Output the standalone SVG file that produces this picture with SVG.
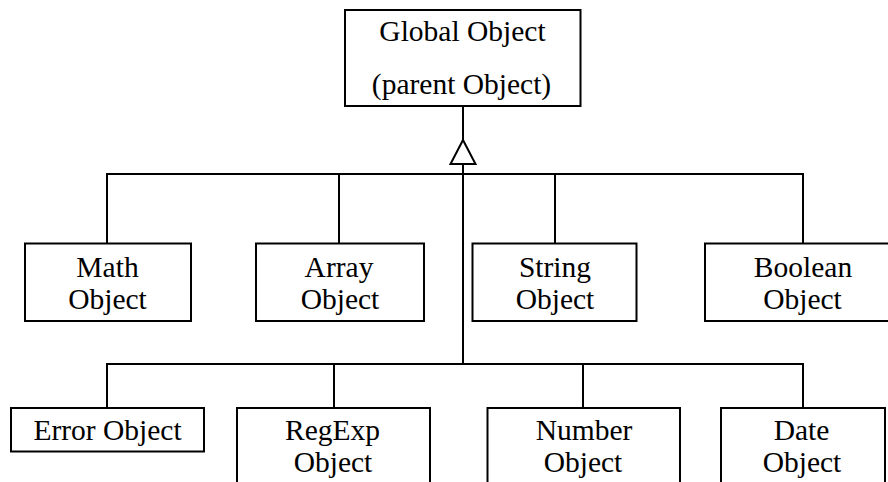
<svg xmlns="http://www.w3.org/2000/svg" width="888" height="482" viewBox="0 0 888 482">
<style>
.box{fill:#fff;stroke:#000;stroke-width:2}
.ln{fill:none;stroke:#000;stroke-width:2}
.tri{fill:#fff;stroke:#000;stroke-width:2;stroke-linejoin:miter}
text{font-family:"Liberation Serif","Times New Roman",serif;font-size:29.5px;fill:#000;text-anchor:middle}
</style>
<rect width="888" height="482" fill="#fff"/>
<g id="connectors">
<path class="ln" d="M463,106 V364"/>
<path class="ln" d="M107,243 V174 H803 V243 M339,174 V243 M555,174 V243"/>
<path class="ln" d="M107,408 V364 H803 V408 M334,364 V408 M583,364 V408"/>
<polygon class="tri" points="463,140 475.5,164 450.5,164"/>
</g>
<g id="global">
<rect class="box" x="345" y="10" width="235.5" height="96"/>
<text x="462.5" y="40.5">Global Object</text>
<text x="461.5" y="94">(parent Object)</text>
</g>
<g id="math">
<rect class="box" x="25" y="243.5" width="166" height="77.5"/>
<text x="107.5" y="276.5">Math</text>
<text x="107.5" y="308.5">Object</text>
</g>
<g id="array">
<rect class="box" x="256" y="243.5" width="168" height="77.5"/>
<text x="339" y="276.5">Array</text>
<text x="340" y="308.5">Object</text>
</g>
<g id="string">
<rect class="box" x="472.5" y="243.5" width="164" height="77.5"/>
<text x="555" y="276.5">String</text>
<text x="555" y="308.5">Object</text>
</g>
<g id="boolean">
<rect class="box" x="705" y="243.5" width="190" height="77.5"/>
<text x="803" y="276.5">Boolean</text>
<text x="802.5" y="308.5">Object</text>
</g>
<g id="error">
<rect class="box" x="11" y="408" width="193" height="43.5"/>
<text x="107.5" y="440">Error Object</text>
</g>
<g id="regexp">
<rect class="box" x="237" y="408" width="193" height="90"/>
<text x="332.5" y="440">RegExp</text>
<text x="333" y="471.5">Object</text>
</g>
<g id="number">
<rect class="box" x="487.5" y="408" width="192.5" height="90"/>
<text x="584" y="440">Number</text>
<text x="583" y="471.5">Object</text>
</g>
<g id="date">
<rect class="box" x="721" y="408" width="164" height="90"/>
<text x="801.5" y="440">Date</text>
<text x="802" y="471.5">Object</text>
</g>
</svg>
